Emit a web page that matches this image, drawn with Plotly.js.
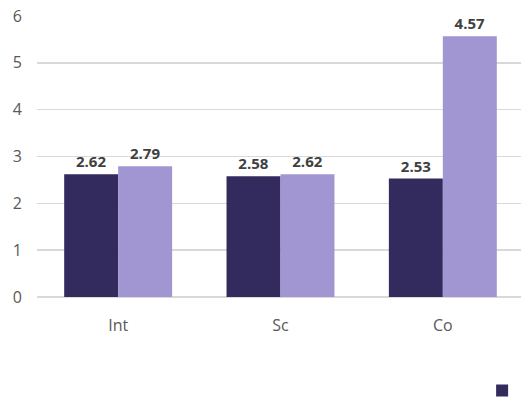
<!DOCTYPE html>
<html>
<head>
<meta charset="utf-8">
<script src="https://cdn.plot.ly/plotly-3.0.1.min.js"></script>
<style>
html,body{margin:0;padding:0;overflow:hidden;background:#fff;}
#chart{width:700px;height:403px;}
</style>
</head>
<body>
<div id="chart"></div>
<script>
var categories = ["Int", "Sc", "Co"];
var seriesNames = ["Pre", "Post"];
var preValues = [2.62, 2.58, 2.53];
var postValues = [2.79, 2.62, 5.57];
var preLabels = ["2.62", "2.58", "2.53"];
var postLabels = ["2.79", "2.62", "4.57"];
var yTicks = [0, 1, 2, 3, 4, 5, 6];

var labelFont = {family: "Open Sans, sans-serif", size: 15, color: "#404040", weight: "bold"};

var traces = [
  {
    type: "bar", name: seriesNames[0], x: categories, y: preValues,
    text: preLabels, textposition: "outside", cliponaxis: false,
    textfont: labelFont, marker: {color: "#332a5e"}
  },
  {
    type: "bar", name: seriesNames[1], x: categories, y: postValues,
    text: postLabels, textposition: "outside", cliponaxis: false,
    textfont: labelFont, marker: {color: "#a296d2"}
  }
];

var layout = {
  width: 700, height: 403,
  margin: {l: 37, r: 176, t: 16, b: 106, autoexpand: false},
  paper_bgcolor: "#ffffff", plot_bgcolor: "#ffffff",
  barmode: "group", bargap: 0.335, bargroupgap: 0,
  showlegend: true,
  legend: {orientation: "h", x: 0.914, xanchor: "left", y: -0.333, yanchor: "middle",
           font: {family: "Open Sans, sans-serif", size: 16, color: "#595959"}},
  xaxis: {
    tickfont: {family: "Open Sans, sans-serif", size: 16, color: "#595959"},
    showgrid: false, ticks: "", showline: false, zeroline: false,
    ticklabelstandoff: 17
  },
  yaxis: {
    range: [0, 6], tickvals: yTicks,
    tickfont: {family: "Open Sans, sans-serif", size: 16, color: "#595959"},
    showgrid: true, gridcolor: "#d9d9d9", gridwidth: 1.5,
    zeroline: true, zerolinecolor: "#d9d9d9", zerolinewidth: 1.5,
    showline: false, ticks: "", ticklabelstandoff: 14
  }
};

Plotly.newPlot("chart", traces, layout, {displayModeBar: false, staticPlot: true});
</script>
</body>
</html>
